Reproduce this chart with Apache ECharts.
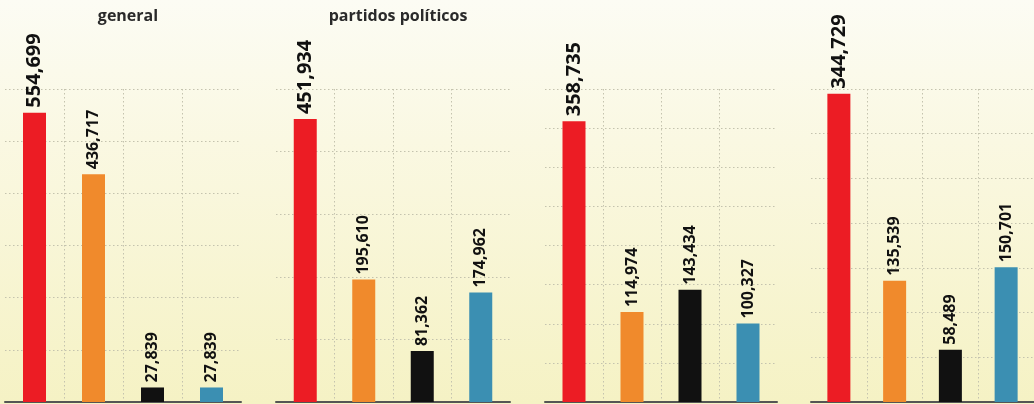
<!DOCTYPE html>
<html>
<head>
<meta charset="utf-8">
<script src="https://cdn.jsdelivr.net/npm/echarts@6/dist/echarts.min.js"></script>
<style>
html,body{margin:0;padding:0;}
#chart{width:1034px;height:404px;}
</style>
</head>
<body>
<div id="chart"></div>
<script>
// ---- data ----
const categories = ['Rojo', 'Naranja', 'Negro', 'Azul'];
const panelTitles = ['general', 'partidos políticos', '', ''];
const panel1Values = [554699, 436717, 27839, 27839];
const panel2Values = [451934, 195610, 81362, 174962];
const panel3Values = [358735, 114974, 143434, 100327];
const panel4Values = [344729, 135539, 58489, 150701];
const axisMax = [600000, 500000, 400000, 350000];
const axisInterval = [100000, 100000, 50000, 50000];

// ---- styling / layout ----
const barColors = ['#ec1c24', '#f08a2c', '#111111', '#3b8fb2'];
const panelValues = [panel1Values, panel2Values, panel3Values, panel4Values];
const gridLefts = [5, 276, 545, 811];
const gridWidths = [236, 234, 232, 232];
const fontFam = '"Open Sans", "Noto Sans", sans-serif';
const gridLineStyle = {color: '#c4c3ae', type: [1.5, 2.5], width: 1};

const grids = [], xAxes = [], yAxes = [], series = [], titles = [];
panelValues.forEach((vals, i) => {
  grids.push({left: gridLefts[i], width: gridWidths[i], top: 89, bottom: 2, containLabel: false});
  xAxes.push({
    type: 'category', gridIndex: i, data: categories,
    axisLine: {show: true, lineStyle: {color: '#555', width: 2}},
    axisTick: {show: false}, axisLabel: {show: false},
    splitLine: {show: true, showMinLine: false, showMaxLine: false, lineStyle: gridLineStyle}
  });
  yAxes.push({
    type: 'value', gridIndex: i, min: 0, max: axisMax[i], interval: axisInterval[i],
    axisLine: {show: false}, axisTick: {show: false}, axisLabel: {show: false},
    splitLine: {show: true, showMinLine: false, lineStyle: gridLineStyle}
  });
  series.push({
    type: 'bar', xAxisIndex: i, yAxisIndex: i, barWidth: 23,
    data: vals.map((v, j) => ({
      value: v,
      itemStyle: {color: barColors[j]},
      label: j === 0 ? {fontSize: 20} : {fontSize: 16}
    })),
    label: {
      show: true, position: 'top', rotate: 90, align: 'left', verticalAlign: 'middle',
      distance: 5, color: '#111', fontWeight: 'bold', fontFamily: fontFam,
      formatter: p => p.value.toLocaleString('en-US')
    }
  });
  if (panelTitles[i]) {
    titles.push({
      text: panelTitles[i], left: gridLefts[i] + gridWidths[i] / 2, top: 3, textAlign: 'center',
      textStyle: {fontSize: 16, fontWeight: 'bold', color: '#2a2a2a', fontFamily: fontFam}
    });
  }
});

const chart = echarts.init(document.getElementById('chart'));
chart.setOption({
  animation: false,
  backgroundColor: {
    type: 'linear', x: 0, y: 0, x2: 0, y2: 1,
    colorStops: [
      {offset: 0, color: '#fcfcf4'},
      {offset: 0.35, color: '#faf8e2'},
      {offset: 1, color: '#f5f2c4'}
    ]
  },
  title: titles,
  grid: grids,
  xAxis: xAxes,
  yAxis: yAxes,
  series: series
});
</script>
</body>
</html>
